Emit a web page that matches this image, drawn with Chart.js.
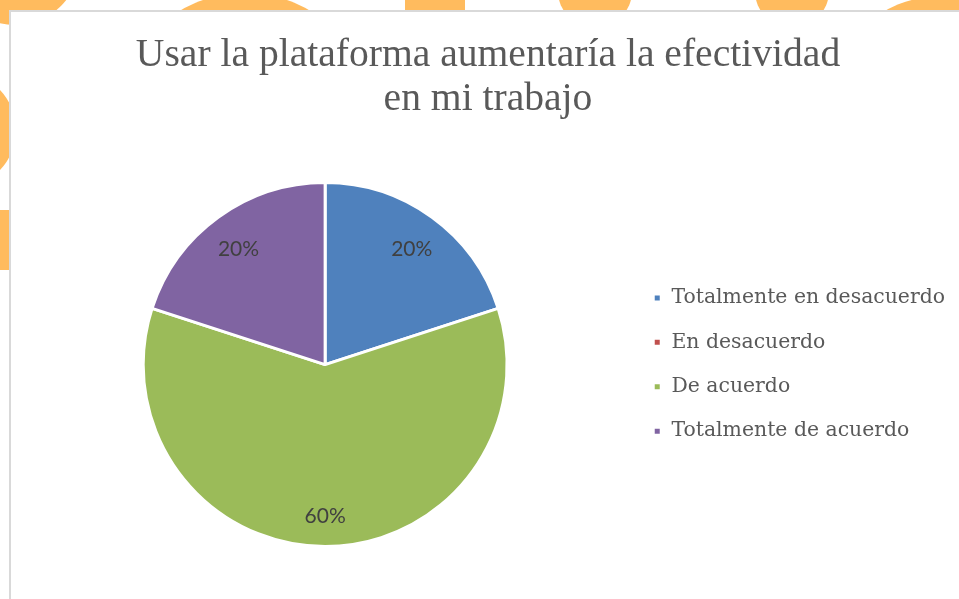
<!DOCTYPE html>
<html>
<head>
<meta charset="utf-8">
<script src="https://cdn.jsdelivr.net/npm/chart.js@4.4.1/dist/chart.umd.min.js"></script>
<style>
  html, body { margin: 0; padding: 0; background: #fff; overflow: hidden; }
  body { width: 959px; height: 599px; position: relative; }
  .deco { position: absolute; background: #FFBB5E; border-radius: 50%; }
  #panel {
    position: absolute; left: 9px; top: 10px; width: 960px; height: 600px;
    background: #fff; border-left: 2px solid #d9d9d9; border-top: 2px solid #d9d9d9;
  }
  #chart { position: absolute; left: 0; top: 0; }
</style>
</head>
<body>
<!-- orange background shapes behind the chart panel -->
<div class="deco" style="left:-50px;top:-105px;width:130px;height:130px;"></div>
<div class="deco" style="left:116px;top:-7px;width:258px;height:258px;"></div>
<div class="deco" style="left:405px;top:0;width:60px;height:20px;border-radius:0;"></div>
<div class="deco" style="left:558px;top:-46px;width:74px;height:74px;"></div>
<div class="deco" style="left:755px;top:-46px;width:74px;height:74px;"></div>
<div class="deco" style="left:836px;top:-3px;width:200px;height:200px;"></div>
<div class="deco" style="left:-100px;top:72px;width:116px;height:116px;"></div>
<div class="deco" style="left:-20px;top:210px;width:40px;height:60px;border-radius:0;"></div>

<div id="panel"><canvas id="chart" width="950" height="589"></canvas></div>

<script>
const titleLines = ["Usar la plataforma aumentaría la efectividad", "en mi trabajo"];
const categories = ["Totalmente en desacuerdo", "En desacuerdo", "De acuerdo", "Totalmente de acuerdo"];
const percentages = [20, 0, 60, 20];
const sliceColors = ["#4F81BD", "#C0504D", "#9BBB59", "#8064A2"];

// draw the percent labels inside each slice
const sliceLabels = {
    id: "sliceLabels",
    afterDatasetsDraw(chart) {
        const ctx = chart.ctx;
        const meta = chart.getDatasetMeta(0);
        ctx.save();
        ctx.font = "21px Lato";
        ctx.fillStyle = "#404040";
        ctx.textAlign = "center";
        ctx.textBaseline = "middle";
        meta.data.forEach((arc, i) => {
            const v = percentages[i];
            if (!v) return;
            const mid = (arc.startAngle + arc.endAngle) / 2;
            const r = arc.outerRadius * 0.81;
            ctx.fillText(v + "%", arc.x + Math.cos(mid) * r, arc.y + Math.sin(mid) * r + 4);
        });
        ctx.restore();
    }
};

new Chart(document.getElementById("chart").getContext("2d"), {
    type: "pie",
    data: {
        labels: categories,
        datasets: [{
            data: percentages,
            backgroundColor: sliceColors,
            borderColor: "#ffffff",
            borderWidth: 3
        }]
    },
    options: {
        responsive: false,
        animation: false,
        layout: { padding: { left: 10, right: 6, top: 22, bottom: 53 } },
        plugins: {
            title: {
                display: true,
                text: titleLines,
                color: "#595959",
                font: { family: "Liberation Serif", size: 39.6, weight: "normal", lineHeight: 1.1 },
                padding: { top: 0, bottom: 60 }
            },
            legend: {
                position: "right",
                fullSize: false,
                labels: {
                    color: "#595959",
                    font: { family: "DejaVu Serif", size: 20.4 },
                    boxWidth: 8,
                    boxHeight: 8,
                    padding: 24
                }
            },
            tooltip: { enabled: false }
        }
    },
    plugins: [sliceLabels]
});
</script>
</body>
</html>
